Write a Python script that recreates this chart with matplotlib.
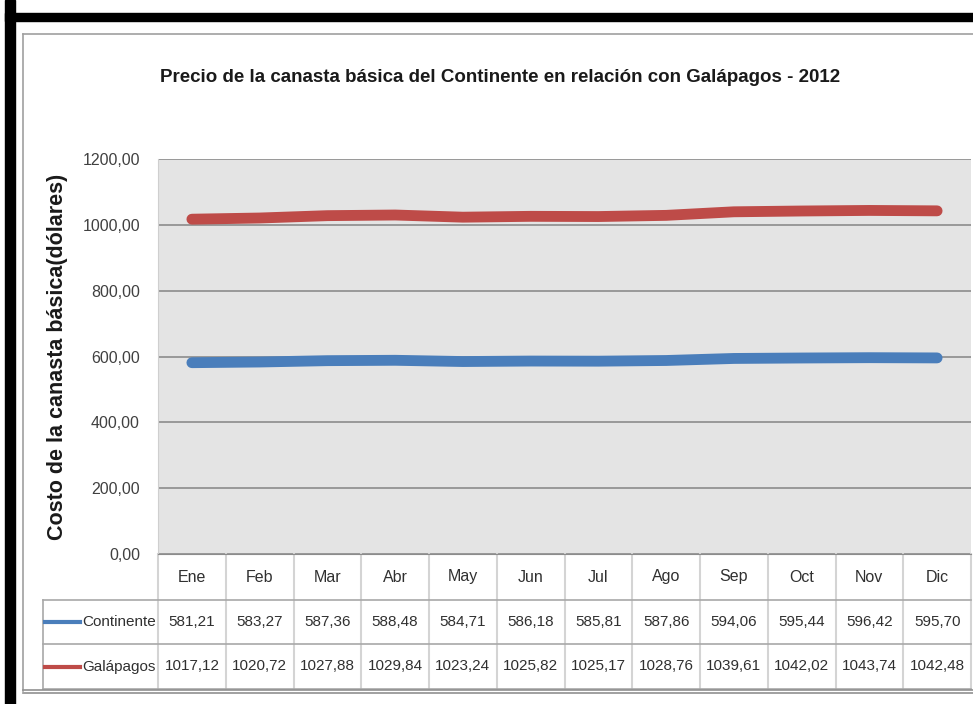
import matplotlib
import matplotlib.pyplot as plt
from matplotlib import transforms
from matplotlib.patches import Rectangle
from matplotlib.lines import Line2D

matplotlib.use("Agg")

months = ["Ene", "Feb", "Mar", "Abr", "May", "Jun", "Jul", "Ago", "Sep", "Oct", "Nov", "Dic"]
continente = [581.21, 583.27, 587.36, 588.48, 584.71, 586.18, 585.81, 587.86, 594.06, 595.44, 596.42, 595.70]
galapagos = [1017.12, 1020.72, 1027.88, 1029.84, 1023.24, 1025.82, 1025.17, 1028.76, 1039.61, 1042.02, 1043.74, 1042.48]
series_names = ["Continente", "Galápagos"]
series_colors = ["#4a7ebb", "#be4b48"]
y_ticks = [0, 200, 400, 600, 800, 1000, 1200]

title = "Precio de la canasta básica del Continente en relación con Galápagos - 2012"
ylabel = "Costo de la canasta básica(dólares)"

W, H = 973, 704
FONT = ["Liberation Sans", "DejaVu Sans"]
plt.rcParams["font.family"] = FONT


def fx(px):
    return px / W


def fy(py):
    return 1 - py / H


fig = plt.figure(figsize=(W / 100, H / 100), dpi=100)
fig.patch.set_facecolor("white")

# outer black frame (top and left visible) and inner gray frame
fig.add_artist(Rectangle((fx(5), fy(704)), fx(10), 704 / H, color="black", transform=fig.transFigure))
fig.add_artist(Rectangle((fx(5), fy(21)), fx(968), 8 / H, color="black", transform=fig.transFigure))
fig.add_artist(Line2D([fx(23), fx(973)], [fy(34), fy(34)], color="#a0a0a0", lw=1.2))
fig.add_artist(Line2D([fx(23), fx(23)], [fy(34), fy(691)], color="#a0a0a0", lw=1.2))
fig.add_artist(Line2D([fx(23), fx(973)], [fy(690), fy(690)], color="#909090", lw=1.2))
fig.add_artist(Line2D([fx(23), fx(973)], [fy(693), fy(693)], color="#909090", lw=1.2))

left, right, top, bottom = 158, 971, 159, 554
ax = fig.add_axes([fx(left), fy(bottom), fx(right - left), (bottom - top) / H])
ax.set_facecolor("#e4e4e4")

x = list(range(len(months)))
for vals, col in zip([continente, galapagos], series_colors):
    ax.plot(x, vals, color=col, lw=7.8, solid_capstyle="round", solid_joinstyle="round", zorder=3)

ax.set_xlim(-0.5, len(months) - 0.5)
ax.set_ylim(0, 1200)
ax.set_yticks(y_ticks)
ax.set_yticklabels([f"{v},00" for v in y_ticks], fontsize=11.5, color="#404040")
ax.set_xticks([])
ax.tick_params(axis="y", length=0, pad=13)
ax.grid(axis="y", color="#8c8c8c", lw=1.2)
ax.set_axisbelow(True)
for side in ["top", "right"]:
    ax.spines[side].set_visible(False)
ax.spines["left"].set_color("#cfcfcf")
ax.spines["bottom"].set_color("#8c8c8c")

ax.set_ylabel(ylabel, fontsize=15.5, fontweight="bold", color="#1a1a1a", va="center")
ax.yaxis.set_label_coords((58 - left) / (right - left), 0.5)

fig.text(fx(500), fy(78), title, ha="center", va="center", fontsize=13.5, fontweight="bold",
         color="#1a1a1a")

# data table below the plot
span = bottom - top
row_edges = [0, -(600 - bottom) / span, -(644 - bottom) / span, -(689 - bottom) / span]
lbl_left = (43 - left) / (right - left)
blend = transforms.blended_transform_factory(ax.transData, ax.transAxes)

for k in range(len(months) + 1):
    ax.plot([k - 0.5, k - 0.5], [row_edges[0], row_edges[3]], transform=blend, clip_on=False,
            color="#d4d4d4", lw=1.5)
for ye in row_edges[1:]:
    ax.plot([lbl_left, 1], [ye, ye], transform=ax.transAxes, clip_on=False, color="#a8a8a8", lw=1.2)
ax.plot([lbl_left, lbl_left], [row_edges[1], row_edges[3]], transform=ax.transAxes, clip_on=False,
        color="#a8a8a8", lw=1.2)

hdr_y = (row_edges[0] + row_edges[1]) / 2
for i, m in enumerate(months):
    ax.text(i, hdr_y, m, transform=blend, ha="center", va="center", fontsize=11.5, color="#303030")

for r, (name, vals, col) in enumerate(zip(series_names, [continente, galapagos], series_colors)):
    ry = (row_edges[r + 1] + row_edges[r + 2]) / 2
    ax.plot([lbl_left + 0.003, lbl_left + 0.045], [ry, ry], transform=ax.transAxes, clip_on=False,
            color=col, lw=3)
    ax.text(-0.003, ry, name, transform=ax.transAxes, ha="right", va="center", fontsize=11,
            color="#303030")
    for i, v in enumerate(vals):
        ax.text(i, ry, f"{v:.2f}".replace(".", ","), transform=blend, ha="center", va="center",
                fontsize=11, color="#303030")

fig.savefig("out.png", dpi=100)
